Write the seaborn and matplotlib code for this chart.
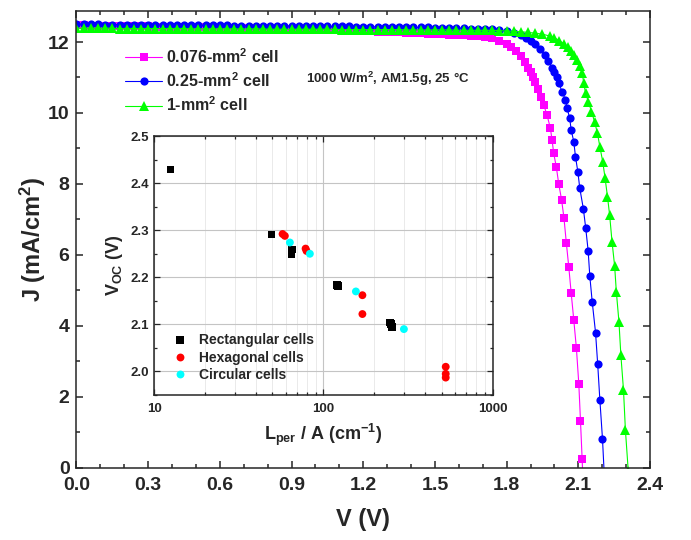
import matplotlib
matplotlib.use("Agg")
import matplotlib.pyplot as plt
from matplotlib.ticker import MultipleLocator, LogLocator, NullFormatter
import seaborn as sns
import pandas as pd

# J-V curves (V in volts, J in mA/cm2)
v_flat = [0.00, 0.03, 0.06, 0.09, 0.12, 0.15, 0.18, 0.21, 0.24, 0.27,
          0.30, 0.33, 0.36, 0.39, 0.42, 0.45, 0.48, 0.51, 0.54, 0.57,
          0.60, 0.63, 0.66, 0.69, 0.72, 0.75, 0.78, 0.81, 0.84, 0.87,
          0.90, 0.93, 0.96, 0.99, 1.02, 1.05, 1.08, 1.11, 1.14, 1.17,
          1.20, 1.23, 1.26, 1.29, 1.32, 1.35, 1.38, 1.41, 1.44, 1.47,
          1.50, 1.53, 1.56, 1.59, 1.62, 1.65, 1.68, 1.71]

j_mag_flat = [12.47, 12.47, 12.46, 12.46, 12.46, 12.45, 12.45, 12.45, 12.44, 12.44,
              12.44, 12.43, 12.43, 12.43, 12.42, 12.42, 12.42, 12.41, 12.41, 12.41,
              12.40, 12.40, 12.40, 12.39, 12.39, 12.38, 12.38, 12.38, 12.37, 12.37,
              12.36, 12.36, 12.35, 12.35, 12.34, 12.34, 12.33, 12.33, 12.32, 12.31,
              12.31, 12.30, 12.29, 12.29, 12.28, 12.27, 12.26, 12.26, 12.25, 12.24,
              12.23, 12.22, 12.21, 12.20, 12.19, 12.18, 12.16, 12.14]
v_mag_knee = [1.74, 1.77, 1.80, 1.82, 1.84, 1.86, 1.875, 1.89, 1.90, 1.91,
              1.92, 1.93, 1.943, 1.955, 1.969, 1.983, 1.990, 1.997, 2.008, 2.018,
              2.030, 2.040, 2.050, 2.060, 2.070, 2.081, 2.092, 2.102, 2.109, 2.116, 2.122]
j_mag_knee = [12.10, 12.04, 11.95, 11.86, 11.75, 11.60, 11.45, 11.28, 11.15, 11.02,
              10.88, 10.68, 10.45, 10.23, 9.94, 9.57, 9.24, 8.86, 8.47, 8.00,
              7.55, 7.03, 6.32, 5.66, 4.93, 4.16, 3.36, 2.36, 1.32, 0.23, -0.90]

j_blue_flat = [12.50, 12.50, 12.50, 12.50, 12.49, 12.49, 12.49, 12.49, 12.49, 12.49,
               12.48, 12.48, 12.48, 12.48, 12.48, 12.48, 12.47, 12.47, 12.47, 12.47,
               12.47, 12.47, 12.46, 12.46, 12.46, 12.46, 12.46, 12.46, 12.45, 12.45,
               12.45, 12.45, 12.45, 12.45, 12.44, 12.44, 12.44, 12.44, 12.44, 12.43,
               12.43, 12.43, 12.43, 12.42, 12.42, 12.42, 12.42, 12.41, 12.41, 12.41,
               12.40, 12.40, 12.40, 12.39, 12.39, 12.38, 12.38, 12.37]
v_blue_knee = [1.74, 1.77, 1.80, 1.83, 1.86, 1.88, 1.90, 1.92, 1.94, 1.96,
               1.975, 1.99, 2.00, 2.01, 2.018, 2.032, 2.046, 2.053, 2.064, 2.070,
               2.081, 2.088, 2.098, 2.106, 2.121, 2.131, 2.141, 2.148, 2.158, 2.172,
               2.181, 2.190, 2.201, 2.210]
j_blue_knee = [12.36, 12.34, 12.31, 12.26, 12.19, 12.12, 12.04, 11.94, 11.80, 11.63,
               11.47, 11.28, 11.15, 11.00, 10.84, 10.60, 10.37, 10.13, 9.85, 9.52,
               9.19, 8.77, 8.34, 7.88, 7.30, 6.75, 6.12, 5.40, 4.68, 3.81,
               2.92, 1.92, 0.82, -0.40]

j_green_flat = [12.39, 12.39, 12.39, 12.39, 12.39, 12.39, 12.38, 12.38, 12.38, 12.38,
                12.38, 12.38, 12.38, 12.38, 12.38, 12.38, 12.37, 12.37, 12.37, 12.37,
                12.37, 12.37, 12.37, 12.37, 12.37, 12.37, 12.37, 12.36, 12.36, 12.36,
                12.36, 12.36, 12.36, 12.36, 12.36, 12.36, 12.36, 12.35, 12.35, 12.35,
                12.35, 12.35, 12.35, 12.35, 12.35, 12.35, 12.34, 12.34, 12.34, 12.34,
                12.34, 12.34, 12.34, 12.33, 12.33, 12.33, 12.33, 12.33]
v_green_knee = [1.74, 1.77, 1.80, 1.83, 1.86, 1.89, 1.92, 1.95, 1.98, 2.00,
                2.02, 2.04, 2.055, 2.07, 2.08, 2.095, 2.105, 2.116, 2.123, 2.130,
                2.142, 2.155, 2.168, 2.180, 2.190, 2.202, 2.212, 2.222, 2.231, 2.241,
                2.252, 2.259, 2.270, 2.278, 2.289, 2.297, 2.309]
j_green_knee = [12.33, 12.32, 12.31, 12.30, 12.29, 12.27, 12.25, 12.22, 12.17, 12.12,
                12.04, 11.95, 11.86, 11.75, 11.64, 11.50, 11.32, 11.12, 10.84, 10.56,
                10.32, 10.04, 9.75, 9.43, 9.05, 8.63, 8.16, 7.64, 7.12, 6.37,
                5.68, 4.96, 4.11, 3.17, 2.19, 1.06, -0.10]

curve_labels = ["0.076-mm$^2$ cell", "0.25-mm$^2$ cell", "1-mm$^2$ cell"]

# inset: Voc vs perimeter/area
rect_x = [12.5, 49.4, 65.4, 64.8, 121.0, 122.0, 247.0, 250.0, 253.0]
rect_y = [2.429, 2.291, 2.259, 2.249, 2.184, 2.182, 2.104, 2.101, 2.095]
hex_x = [57.4, 59.2, 78.5, 79.5, 170.0, 170.0, 528.0, 528.0, 528.0]
hex_y = [2.292, 2.288, 2.261, 2.256, 2.162, 2.122, 2.010, 1.995, 1.987]
circ_x = [63.4, 83.2, 155.6, 299.0]
circ_y = [2.274, 2.250, 2.170, 2.090]
shape_labels = ["Rectangular cells", "Hexagonal cells", "Circular cells"]

sns.set_style("ticks")
plt.rcParams["font.family"] = ["Liberation Sans", "DejaVu Sans"]
plt.rcParams["font.weight"] = "bold"
plt.rcParams["mathtext.fontset"] = "custom"
plt.rcParams["mathtext.rm"] = "Liberation Sans:bold"
plt.rcParams["mathtext.it"] = "Liberation Sans:bold"
plt.rcParams["mathtext.bf"] = "Liberation Sans:bold"
plt.rcParams["mathtext.sf"] = "Liberation Sans:bold"
plt.rcParams["mathtext.default"] = "bf"
plt.rcParams["axes.linewidth"] = 1.1

fig = plt.figure(figsize=(6.91, 5.4), dpi=100)
ax = fig.add_axes([0.1107, 0.134, 0.830, 0.846])

curves = [
    (v_flat + v_mag_knee, j_mag_flat + j_mag_knee, "#ff00ff", "s", 5.3),
    (v_flat + v_blue_knee, j_blue_flat + j_blue_knee, "#0000ff", "o", 5.9),
    (v_flat + v_green_knee, j_green_flat + j_green_knee, "#00ff00", "^", 7.4),
]
for (v, j, col, mk, ms), lab in zip(curves, curve_labels):
    sns.lineplot(x=v, y=j, ax=ax, color=col, marker=mk, markersize=ms,
                 markeredgewidth=0, linewidth=0.8, label=lab, sort=False,
                 estimator=None)

ax.set_xlim(0, 2.4)
ax.set_ylim(0, 12.88)
ax.xaxis.set_major_locator(MultipleLocator(0.3))
ax.xaxis.set_minor_locator(MultipleLocator(0.1))
ax.yaxis.set_major_locator(MultipleLocator(2))
ax.yaxis.set_minor_locator(MultipleLocator(1))
ax.tick_params(which="both", direction="in", top=True, right=True, width=1.1)
ax.tick_params(which="major", length=5, labelsize=14)
ax.tick_params(which="minor", length=3)
ax.tick_params(axis="x", which="major", pad=7)
ax.tick_params(axis="y", which="major", pad=5)
ax.set_xlabel("V (V)", fontsize=17, fontweight="bold", labelpad=10)
ax.set_ylabel("J (mA/cm$^2$)", fontsize=17, fontweight="bold", labelpad=0)

ax.legend(loc="upper left", bbox_to_anchor=(0.085, 0.921), frameon=False,
          fontsize=11.5, handlelength=2.3, handletextpad=0.25,
          labelspacing=0.35, borderpad=0, borderaxespad=0)
ax.text(0.40, 0.852, "1000 W/m$^2$, AM1.5g, 25 °C", transform=ax.transAxes,
        fontsize=9.5, fontweight="bold", va="center", ha="left")

# inset
ins = fig.add_axes([0.223, 0.2685, 0.490, 0.4795])
inset_df = pd.DataFrame({
    "L": rect_x + hex_x + circ_x,
    "Voc": rect_y + hex_y + circ_y,
    "shape": [shape_labels[0]] * len(rect_x) + [shape_labels[1]] * len(hex_x)
             + [shape_labels[2]] * len(circ_x),
})
sns.scatterplot(data=inset_df, x="L", y="Voc", hue="shape", style="shape",
                palette={shape_labels[0]: "black", shape_labels[1]: "#ff0000",
                         shape_labels[2]: "#00ffff"},
                markers={shape_labels[0]: "s", shape_labels[1]: "o",
                         shape_labels[2]: "o"},
                s=32, linewidth=0, ax=ins, zorder=3)
ins.set_xscale("log")
ins.set_xlim(10, 1000)
ins.set_ylim(1.95, 2.5)
ins.yaxis.set_major_locator(MultipleLocator(0.1))
ins.yaxis.set_minor_locator(MultipleLocator(0.05))
ins.xaxis.set_minor_locator(LogLocator(base=10, subs=range(2, 10)))
ins.xaxis.set_minor_formatter(NullFormatter())
ins.set_xticks([10, 100, 1000], labels=["10", "100", "1000"])
ins.grid(which="major", color="#c4c4c4", linewidth=0.8)
ins.grid(which="minor", axis="x", color="#e6e6e6", linewidth=0.6)
ins.tick_params(which="both", direction="in", top=True, right=True, width=0.9)
ins.tick_params(which="major", length=4, labelsize=9.5)
ins.tick_params(which="minor", length=2.5)
ins.tick_params(axis="x", which="major", pad=5.5)
ins.set_xlabel("L$_{per}$ / A (cm$^{-1}$)", fontsize=13, fontweight="bold",
               labelpad=5)
ins.set_ylabel("V$_{OC}$ (V)", fontsize=13, fontweight="bold")
ins.legend(loc="upper left", bbox_to_anchor=(0.055, 0.238), frameon=False,
           fontsize=10, handlelength=1.0, handletextpad=0.9, labelspacing=0.25,
           borderpad=0, borderaxespad=0, markerscale=1.0)

fig.savefig("out.png", dpi=100)
